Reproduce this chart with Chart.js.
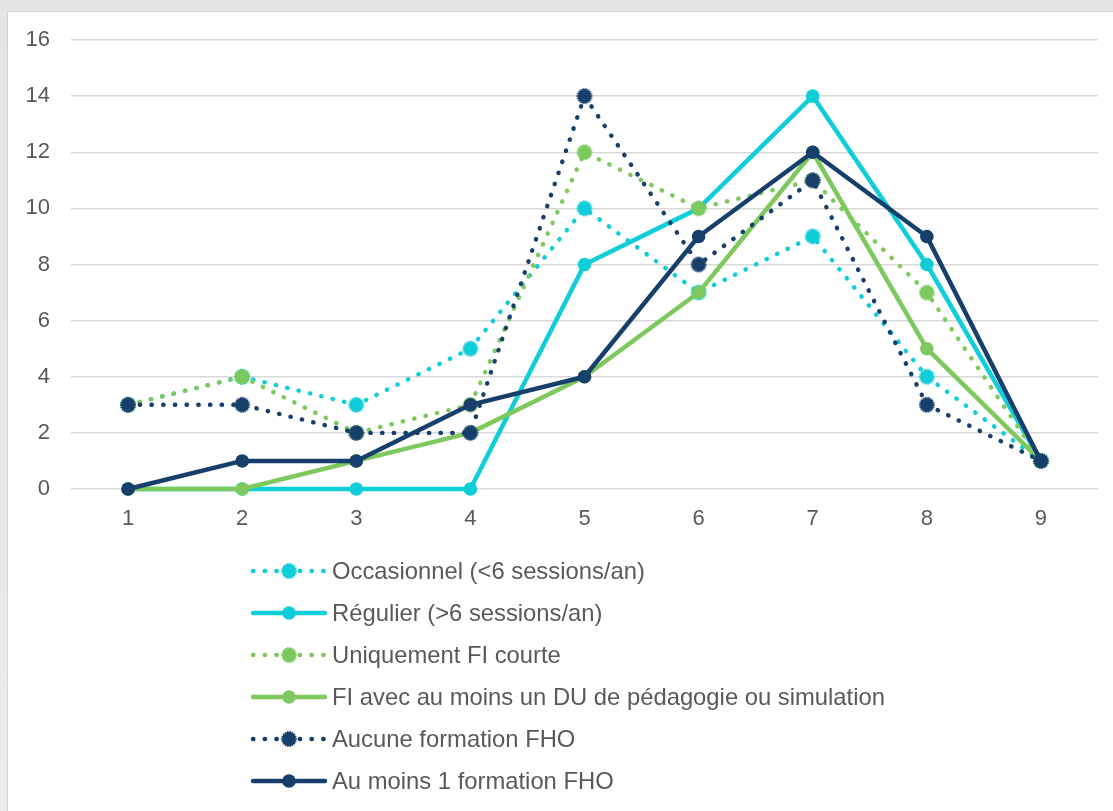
<!DOCTYPE html>
<html>
<head>
<meta charset="utf-8">
<script src="https://cdn.jsdelivr.net/npm/chart.js@4/dist/chart.umd.min.js"></script>
<style>
  html, body { margin: 0; padding: 0; }
  body { width: 1113px; height: 811px; background: linear-gradient(#e4e4e4, #ececec); position: relative; overflow: hidden; }
  #panel { position: absolute; left: 7px; top: 11px; right: 0; bottom: 0; background: #fff; border-left: 1px solid #d4d4d4; border-top: 1px solid #d4d4d4; }
  #wrap { position: absolute; left: 0; top: 0; width: 1113px; height: 811px; }
</style>
</head>
<body>
<div id="panel"></div>
<div id="wrap"><canvas id="c" width="1113" height="811"></canvas></div>
<script>
// Categories and values
const categories = ['1', '2', '3', '4', '5', '6', '7', '8', '9'];
const yTicks = [0, 2, 4, 6, 8, 10, 12, 14, 16];

const occasionnel  = [3, 4, 3, 5, 10, 7, 9, 4, 1];
const regulier     = [0, 0, 0, 0, 8, 10, 14, 8, 1];
const fiCourte     = [3, 4, 2, 3, 12, 10, 11, 7, 1];
const fiAvecDU     = [0, 0, 1, 2, 4, 7, 12, 5, 1];
const aucuneFHO    = [3, 3, 2, 2, 14, 8, 11, 3, 1];
const auMoinsFHO   = [0, 1, 1, 3, 4, 9, 12, 9, 1];

const seriesNames = [
  'Occasionnel (<6 sessions/an)',
  'Régulier (>6 sessions/an)',
  'Uniquement FI courte',
  'FI avec au moins un DU de pédagogie ou simulation',
  'Aucune formation FHO',
  'Au moins 1 formation FHO'
];

const CYAN = '#0fcdd9';
const GREEN = '#7dc95e';
const NAVY = '#173f6b';
const TEXT = '#595959';
const FONT = '"Liberation Sans", Arial, sans-serif';
const DOT_DASH = [0.4, 11.3];

// Solid round marker with a beaded rim, used by the dotted series
function dottedMarker(color) {
  const s = 20, c = s / 2;
  const cv = document.createElement('canvas');
  cv.width = s; cv.height = s;
  const g = cv.getContext('2d');
  g.fillStyle = color;
  g.beginPath(); g.arc(c, c, 6.9, 0, Math.PI * 2); g.fill();
  const beads = 18;
  for (let k = 0; k < beads; k++) {
    const a = (k / beads) * Math.PI * 2;
    g.beginPath();
    g.arc(c + Math.cos(a) * 7.1, c + Math.sin(a) * 7.1, 0.9, 0, Math.PI * 2);
    g.fill();
  }
  return cv;
}

function dotted(label, data, color) {
  return {
    label, data,
    borderColor: color, backgroundColor: color,
    borderWidth: 4.4, borderDash: DOT_DASH, borderCapStyle: 'round',
    pointStyle: dottedMarker(color), pointRadius: 8, pointHoverRadius: 8,
    tension: 0, clip: false, dotted: true
  };
}
function solid(label, data, color) {
  return {
    label, data,
    borderColor: color, backgroundColor: color,
    borderWidth: 4.5, borderCapStyle: 'round', borderJoinStyle: 'round',
    pointStyle: 'circle', pointRadius: 6.8, pointHoverRadius: 6.8, pointBorderWidth: 0,
    tension: 0, clip: false, dotted: false
  };
}

const datasets = [
  dotted(seriesNames[0], occasionnel, CYAN),
  solid(seriesNames[1], regulier, CYAN),
  dotted(seriesNames[2], fiCourte, GREEN),
  solid(seriesNames[3], fiAvecDU, GREEN),
  dotted(seriesNames[4], aucuneFHO, NAVY),
  solid(seriesNames[5], auMoinsFHO, NAVY)
];
// later series are painted above earlier ones
datasets.forEach((d, i) => { d.order = datasets.length - i; });

// Vertical legend drawn below the plot
const columnLegend = {
  id: 'columnLegend',
  afterDraw(chart) {
    const ctx = chart.ctx;
    const x0 = 253, x1 = 325, xm = 289, tx = 332;
    const y0 = 571, step = 42;
    ctx.save();
    datasets.forEach((d, i) => {
      const y = y0 + i * step;
      ctx.strokeStyle = d.borderColor;
      ctx.lineWidth = d.borderWidth;
      ctx.lineCap = 'round';
      ctx.setLineDash(d.dotted ? DOT_DASH : []);
      ctx.beginPath(); ctx.moveTo(x0, y); ctx.lineTo(x1, y); ctx.stroke();
      ctx.setLineDash([]);
      if (d.dotted) {
        ctx.drawImage(d.pointStyle, xm - d.pointStyle.width / 2, y - d.pointStyle.height / 2);
      } else {
        ctx.fillStyle = d.backgroundColor;
        ctx.beginPath(); ctx.arc(xm, y, 6.8, 0, Math.PI * 2); ctx.fill();
      }
      ctx.fillStyle = TEXT;
      ctx.font = '23.8px ' + FONT;
      ctx.textAlign = 'left';
      ctx.textBaseline = 'middle';
      ctx.fillText(d.label, tx, y + 1);
    });
    ctx.restore();
  }
};

new Chart(document.getElementById('c'), {
  type: 'line',
  data: { labels: categories, datasets },
  plugins: [columnLegend],
  options: {
    responsive: false,
    animation: false,
    events: [],
    layout: { padding: { top: 40, right: 15, left: 0, bottom: 0 } },
    plugins: { legend: { display: false }, tooltip: { enabled: false } },
    scales: {
      x: {
        type: 'category',
        offset: true,
        grid: { display: false, drawTicks: false },
        border: { display: false },
        ticks: { color: TEXT, font: { size: 22, family: FONT }, padding: 17, maxRotation: 0 },
        afterFit(scale) { scale.height = 322; }
      },
      y: {
        min: 0, max: 16,
        afterBuildTicks(scale) { scale.ticks = yTicks.map(v => ({ value: v })); },
        grid: { color: '#d9d9d9', lineWidth: 1.5, drawTicks: false },
        border: { display: false },
        ticks: { color: TEXT, font: { size: 22, family: FONT }, padding: 21 },
        afterFit(scale) { scale.width = 71; }
      }
    }
  }
});
</script>
</body>
</html>
